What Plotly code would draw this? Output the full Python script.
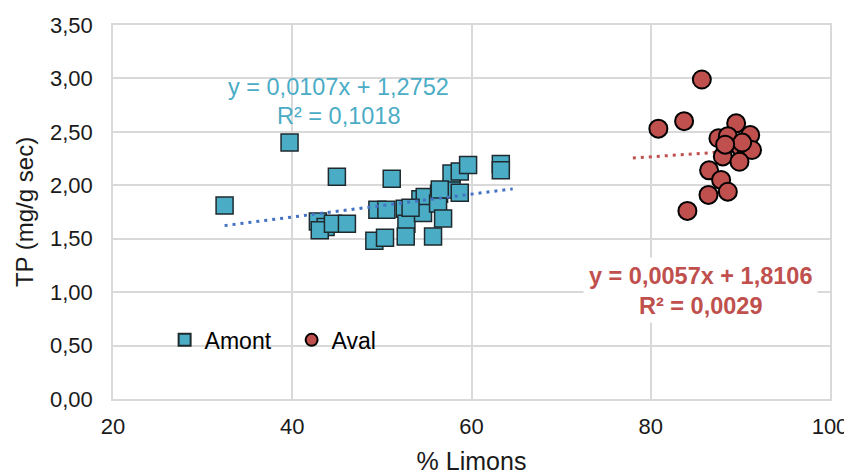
import plotly.graph_objects as go

# ---- Data ----
amont_x = [32.45, 39.70, 44.98, 51.10, 42.86, 43.72, 43.07, 44.54, 46.10, 49.16,
           50.35, 49.50, 50.50, 52.55, 52.74, 52.66, 54.30, 54.78, 54.59, 55.71,
           56.38, 56.27, 56.83, 57.77, 58.69, 57.77, 58.69, 59.62, 63.27, 63.27,
           56.46, 53.20]
amont_y = [1.81, 2.40, 2.08, 2.06, 1.66, 1.61, 1.58, 1.64, 1.64, 1.48,
           1.51, 1.77, 1.77, 1.78, 1.64, 1.52, 1.87, 1.89, 1.74, 1.52,
           1.92, 1.83, 1.69, 1.96, 1.93, 2.11, 2.13, 2.19, 2.20, 2.14,
           1.96, 1.79]

aval_x = [85.70, 80.85, 83.72, 89.53, 91.10, 87.55, 88.60, 89.98, 90.70, 91.30,
          88.04, 89.90, 86.51, 87.85, 86.44, 88.60, 84.09, 90.20, 88.30]
aval_y = [2.99, 2.53, 2.60, 2.58, 2.47, 2.44, 2.46, 2.36, 2.33, 2.33,
          2.27, 2.22, 2.14, 2.05, 1.91, 1.94, 1.76, 2.40, 2.38]

# trendlines (Excel linear fits)
amont_slope, amont_intercept, amont_r2 = 0.0107, 1.2752, 0.1018
aval_slope, aval_intercept, aval_r2 = 0.0057, 1.8106, 0.0029
amont_trend_range = [32.45, 64.6]
aval_trend_range = [78.0, 91.3]

x_ticks = [20, 40, 60, 80, 100]
y_ticks = [0, 0.5, 1.0, 1.5, 2.0, 2.5, 3.0, 3.5]

def fmt(v, d):
    return f"{v:.{d}f}".replace(".", ",")

amont_eq = f"y = {fmt(amont_slope,4)}x + {fmt(amont_intercept,4)}"
amont_r2_txt = f"R² = {fmt(amont_r2,4)}"
aval_eq = f"y = {fmt(aval_slope,4)}x + {fmt(aval_intercept,4)}"
aval_r2_txt = f"R² = {fmt(aval_r2,4)}"

FONT = "Liberation Sans, Arial, sans-serif"
BLUE = "#4BACC6"
RED = "#C0504D"
TXT = "#1a1a1a"

fig = go.Figure()

fig.add_trace(go.Scatter(
    x=amont_x, y=amont_y, mode="markers", name="Amont",
    marker=dict(symbol="square", size=17, color=BLUE,
                line=dict(color="#1e2a2e", width=1.5)),
))
fig.add_trace(go.Scatter(
    x=amont_trend_range,
    y=[amont_slope * v + amont_intercept for v in amont_trend_range],
    mode="lines", showlegend=False, hoverinfo="skip",
    line=dict(color="#4472C4", width=3, dash="3px,5px"),
))
fig.add_trace(go.Scatter(
    x=aval_trend_range,
    y=[aval_slope * v + aval_intercept for v in aval_trend_range],
    mode="lines", showlegend=False, hoverinfo="skip",
    line=dict(color=RED, width=3, dash="3px,5px"),
))
fig.add_trace(go.Scatter(
    x=aval_x, y=aval_y, mode="markers", name="Aval",
    marker=dict(symbol="circle", size=18, color=RED,
                line=dict(color="#000000", width=2)),
))

# equations
fig.add_annotation(x=45.2, y=2.92, xref="x", yref="y", text=amont_eq,
                   showarrow=False, borderpad=0,
                   font=dict(family=FONT, size=23.5, color=BLUE))
fig.add_annotation(x=45.2, y=2.65, xref="x", yref="y", text=amont_r2_txt,
                   showarrow=False, borderpad=0,
                   font=dict(family=FONT, size=23.5, color=BLUE))
fig.add_annotation(x=85.6, y=1.15, xref="x", yref="y", text=f"<b>{aval_eq}</b>",
                   showarrow=False, bgcolor="white", borderpad=5,
                   font=dict(family=FONT, size=23.5, color=RED))
fig.add_annotation(x=85.6, y=0.87, xref="x", yref="y", text=f"<b>{aval_r2_txt}</b>",
                   showarrow=False, bgcolor="white", borderpad=3,
                   font=dict(family=FONT, size=23.5, color=RED))

# the page body has an 8px margin, so the figure is shrunk by 8px and offset
fig.update_layout(
    width=844, height=467,
    margin=dict(l=105, r=22, t=17, b=76),
    paper_bgcolor="white", plot_bgcolor="white",
    separators=", ",
    font=dict(family=FONT, size=22, color=TXT),
    showlegend=True,
    legend=dict(orientation="h", x=0.072, y=0.158, xanchor="left", yanchor="middle",
                bgcolor="rgba(0,0,0,0)", font=dict(family=FONT, size=23, color="#000"),
                entrywidth=82, itemsizing="constant"),
    xaxis=dict(range=[20, 100], tickvals=x_ticks, showgrid=True, automargin=False,
               gridcolor="#D9D9D9", gridwidth=1.5, zeroline=False,
               showline=True, linecolor="#D9D9D9", linewidth=1.5, mirror=True,
               ticks="", ticklabelstandoff=7,
               tickfont=dict(family=FONT, size=22, color=TXT),
               title=dict(text="% Limons", standoff=15,
                          font=dict(family=FONT, size=25, color=TXT))),
    yaxis=dict(range=[0, 3.5], tickvals=y_ticks, tickformat=".2f", showgrid=True,
               automargin=False,
               gridcolor="#D9D9D9", gridwidth=1.5, zeroline=False,
               showline=True, linecolor="#D9D9D9", linewidth=1.5, mirror=True,
               ticks="", ticklabelstandoff=14,
               tickfont=dict(family=FONT, size=22, color=TXT),
               title=dict(text="TP (mg/g sec)", standoff=10,
                          font=dict(family=FONT, size=24, color=TXT))),
)

fig.write_html("out.html")
